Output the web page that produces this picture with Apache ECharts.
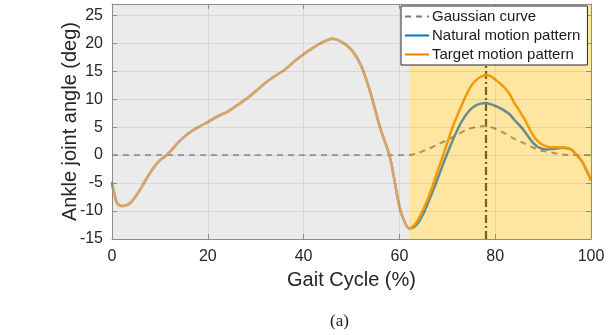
<!DOCTYPE html>
<html>
<head>
<meta charset="utf-8">
<script src="https://cdn.jsdelivr.net/npm/echarts@6/dist/echarts.min.js"></script>
<style>
html,body{margin:0;padding:0;background:#fff;}
#chart{width:616px;height:335px;}
</style>
</head>
<body>
<div id="chart"></div>
<script>
// ---- Data ----
// Shared stance-phase part (both patterns coincide), gait cycle %
var stanceX = [0,1,2,3,4,5,6,7,8,9,10,11,12,14,16,18,20,22,24,26,28,30,32,34,36,38,40,42,44,46,48,50,52,54,56,58,60,61,62];
var stanceAngle = [-4.8,-8.5,-9.1,-9.0,-8.4,-7.3,-6.0,-4.5,-3.1,-1.9,-0.9,-0.3,0.5,2.4,3.9,5.0,5.9,6.9,7.7,8.8,10.0,11.4,12.9,14.1,15.2,16.7,18.0,19.2,20.2,20.8,20.2,18.8,16.0,11.0,4.8,-0.3,-9.2,-11.8,-13.1];
// Swing phase (assisted region)
var swingX = [63,64,65,66,67,68,69,70,71,72,73,74,75,76,77,78,79,80,81,82,83,84,85,86,87,88,89,90,91,92,93,94,95,96,97,98,99,100];
var naturalSwing = [-12.9,-12.0,-10.5,-8.5,-6.4,-4.2,-1.9,0.3,2.4,4.3,6.0,7.3,8.3,8.9,9.2,9.3,9.1,8.8,8.4,7.9,7.3,6.3,5.4,4.4,3.2,2.1,1.4,1.1,1.0,1.1,1.2,1.3,1.2,0.9,0.0,-1.0,-2.6,-4.5];
var targetSwing = [-12.6,-11.4,-9.7,-7.7,-5.4,-2.8,-0.4,2.2,4.7,6.9,8.9,10.8,12.4,13.4,14.0,14.3,14.1,13.5,12.8,12.0,10.9,9.3,8.0,6.6,5.0,3.4,2.4,1.8,1.5,1.4,1.4,1.4,1.3,0.9,0.0,-1.0,-2.6,-4.5];
// Gaussian curve
var gaussX = [0,10,20,30,40,50,56,58,60,62,64,66,68,70,72,74,76,78,80,82,84,86,88,90,92,94,96,98,100];
var gaussVal = [0,0,0,0,0,0,0,0,0,0,0.4,1.1,1.9,2.7,3.6,4.5,5.0,5.2,4.7,3.9,2.9,2.1,1.3,0.7,0.4,0.1,0,0,0];
// Regions / markers
var assistStart = 62;
var peakX = 78;
var xTicks = {min:0, max:100, interval:20};
var yTicks = {min:-15, max:27, interval:5};

function pairs(xs, ys){ return xs.map(function(x,i){ return [x, ys[i]]; }); }
var naturalData = pairs(stanceX, stanceAngle).concat(pairs(swingX, naturalSwing));
var targetData = pairs(stanceX, stanceAngle).concat(pairs(swingX, targetSwing));
var gaussData = pairs(gaussX, gaussVal);

var FONT = 'Arial, "Liberation Sans", sans-serif';
var chart = echarts.init(document.getElementById('chart'));

function xAxisCfg(pos, primary){
  return {
    type:'value', position:pos, min:xTicks.min, max:xTicks.max, interval:xTicks.interval, z:6,
    name: primary ? 'Gait Cycle (%)' : '', nameLocation:'middle', nameGap:31, nameMoveOverlap:false,
    nameTextStyle:{fontFamily:FONT, fontSize:20, color:'#262626'},
    axisLine:{show:true, onZero:false, lineStyle:{color:'#8c8c8c', width:1}},
    axisTick:{show:true, inside:true, length:5, lineStyle:{color:'#8c8c8c'}},
    axisLabel:{show:primary, margin:10, fontFamily:FONT, fontSize:16, color:'#262626'},
    splitLine:{show:primary, lineStyle:{color:'rgba(0,0,0,0.08)', width:1}}
  };
}
function yAxisCfg(pos, primary){
  return {
    type:'value', position:pos, min:yTicks.min, max:yTicks.max, interval:yTicks.interval, z:6,
    name: primary ? 'Ankle joint angle (deg)' : '', nameLocation:'middle', nameGap:32, nameMoveOverlap:false,
    nameTextStyle:{fontFamily:FONT, fontSize:20, color:'#262626'},
    axisLine:{show:true, onZero:false, lineStyle:{color:'#8c8c8c', width:1}},
    axisTick:{show:true, inside:true, length:5, lineStyle:{color:'#8c8c8c'}},
    axisLabel:{show:primary, showMaxLabel:false, margin:9, fontFamily:FONT, fontSize:16, color:'#262626'},
    splitLine:{show:primary, lineStyle:{color:'rgba(0,0,0,0.08)', width:1}}
  };
}

chart.setOption({
  animation:false,
  backgroundColor:'#ffffff',
  grid:{left:112, right:25, top:4, bottom:96, containLabel:false},
  xAxis:[xAxisCfg('bottom', true), xAxisCfg('top', false)],
  yAxis:[yAxisCfg('left', true), yAxisCfg('right', false)],
  legend:{
    left:401, top:6, orient:'vertical', z:10,
    backgroundColor:'#ffffff', borderColor:'#262626', borderWidth:1,
    padding:[3,7,3,3], itemWidth:24, itemHeight:14, itemGap:4, selectedMode:false,
    itemStyle:{opacity:0, borderWidth:0},
    textStyle:{fontFamily:FONT, fontSize:15, color:'#1a1a1a', padding:[0,0,0,-2]},
    data:[
      {name:'Gaussian curve'},
      {name:'Natural motion pattern', lineStyle:{color:'#0072BD'}},
      {name:'Target motion pattern'}
    ]
  },
  graphic:[{
    type:'text', left:330, top:313, z:10,
    style:{text:'(a)', fontFamily:'"Times New Roman", "Liberation Serif", serif', fontSize:17, fill:'#1a1a1a'}
  }],
  series:[
    {
      name:'Gaussian curve', type:'line', data:gaussData, smooth:0.3, symbol:'none', z:2,
      lineStyle:{color:'#7a7a7a', width:2, type:[6,5]}, itemStyle:{color:'#7a7a7a'},
      markLine:{
        silent:true, z:2, symbol:['none','none'], label:{show:false},
        lineStyle:{color:'#262010', width:2.2, type:[8,3,2,3]},
        data:[{xAxis:peakX}]
      }
    },
    {
      name:'Natural motion pattern', type:'line', data:naturalData, smooth:0.3, symbol:'none', z:3,
      lineStyle:{color:'#0069DC', width:2.5}, itemStyle:{color:'#0069DC'}
    },
    {
      name:'Target motion pattern', type:'line', data:targetData, smooth:0.3, symbol:'none', z:4,
      lineStyle:{color:'#EE8000', width:2.5}, itemStyle:{color:'#EE8000'}
    },
    {
      name:'overlay', type:'line', data:[], z:5, silent:true,
      markArea:{
        silent:true, z:5,
        data:[
          [{xAxis:xTicks.min, itemStyle:{color:'rgba(209,209,209,0.44)'}}, {xAxis:assistStart}],
          [{xAxis:assistStart, itemStyle:{color:'rgba(255,192,18,0.4)'}}, {xAxis:xTicks.max}]
        ]
      }
    }
  ]
});
</script>
</body>
</html>
